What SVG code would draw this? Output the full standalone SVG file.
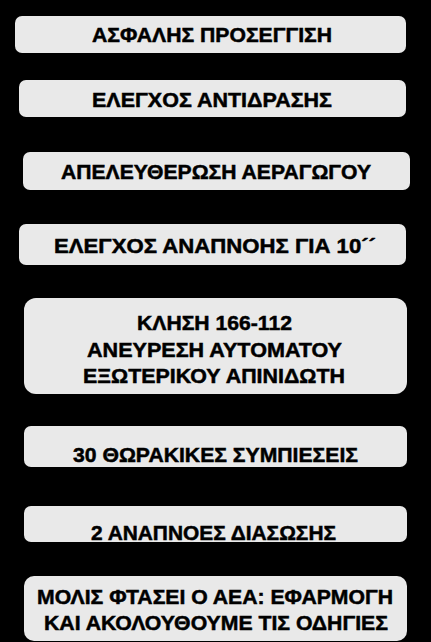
<svg xmlns="http://www.w3.org/2000/svg" width="431" height="642" viewBox="0 0 431 642">
<style>
.box{fill:#e9e9e9;}
.t{font-family:"Liberation Sans",Arial,sans-serif;font-weight:bold;font-size:21px;fill:#000;stroke:#000;stroke-width:0.5;text-anchor:middle;}
</style>
<rect x="0" y="0" width="431" height="642" fill="#000"/>
<g id="connectors"></g>
<g id="n1"><rect class="box" x="15" y="16" width="391" height="37" rx="7"/><text class="t" x="212" y="42" textLength="240" lengthAdjust="spacingAndGlyphs">ΑΣΦΑΛΗΣ ΠΡΟΣΕΓΓΙΣΗ</text></g>
<g id="n2"><rect class="box" x="19" y="80" width="387" height="37" rx="7"/><text class="t" x="212" y="106.5" textLength="240" lengthAdjust="spacingAndGlyphs">ΕΛΕΓΧΟΣ ΑΝΤΙΔΡΑΣΗΣ</text></g>
<g id="n3"><rect class="box" x="23" y="152" width="387" height="38" rx="7"/><text class="t" x="216" y="179" textLength="310" lengthAdjust="spacingAndGlyphs">ΑΠΕΛΕΥΘΕΡΩΣΗ ΑΕΡΑΓΩΓΟΥ</text></g>
<g id="n4"><rect class="box" x="19" y="224" width="387" height="41" rx="7"/><text class="t" x="215" y="252.5" textLength="322" lengthAdjust="spacingAndGlyphs">ΕΛΕΓΧΟΣ ΑΝΑΠΝΟΗΣ  ΓΙΑ 10´´</text></g>
<g id="n5"><rect class="box" x="24" y="298" width="383" height="96" rx="12"/><text class="t" x="214.5" y="330" textLength="155" lengthAdjust="spacingAndGlyphs">ΚΛΗΣΗ 166-112</text><text class="t" x="214.5" y="357" textLength="255" lengthAdjust="spacingAndGlyphs">ΑΝΕΥΡΕΣΗ ΑΥΤΟΜΑΤΟΥ</text><text class="t" x="214" y="383" textLength="262" lengthAdjust="spacingAndGlyphs">ΕΞΩΤΕΡΙΚΟΥ ΑΠΙΝΙΔΩΤΗ</text></g>
<g id="n6"><rect class="box" x="24" y="426" width="383" height="41" rx="7"/><text class="t" x="215.5" y="462" textLength="285" lengthAdjust="spacingAndGlyphs">30 ΘΩΡΑΚΙΚΕΣ ΣΥΜΠΙΕΣΕΙΣ</text></g>
<g id="n7"><rect class="box" x="24" y="506" width="383" height="36" rx="7"/><text class="t" x="213.5" y="540" textLength="245" lengthAdjust="spacingAndGlyphs">2 ΑΝΑΠΝΟΕΣ ΔΙΑΣΩΣΗΣ</text></g>
<g id="n8"><rect class="box" x="24" y="576" width="383" height="65" rx="10"/><text class="t" x="215" y="604" textLength="356" lengthAdjust="spacingAndGlyphs">ΜΟΛΙΣ ΦΤΑΣΕΙ Ο ΑΕΑ: ΕΦΑΡΜΟΓΗ</text><text class="t" x="216" y="630" textLength="344" lengthAdjust="spacingAndGlyphs">ΚΑΙ ΑΚΟΛΟΥΘΟΥΜΕ ΤΙΣ ΟΔΗΓΙΕΣ</text></g>
</svg>
